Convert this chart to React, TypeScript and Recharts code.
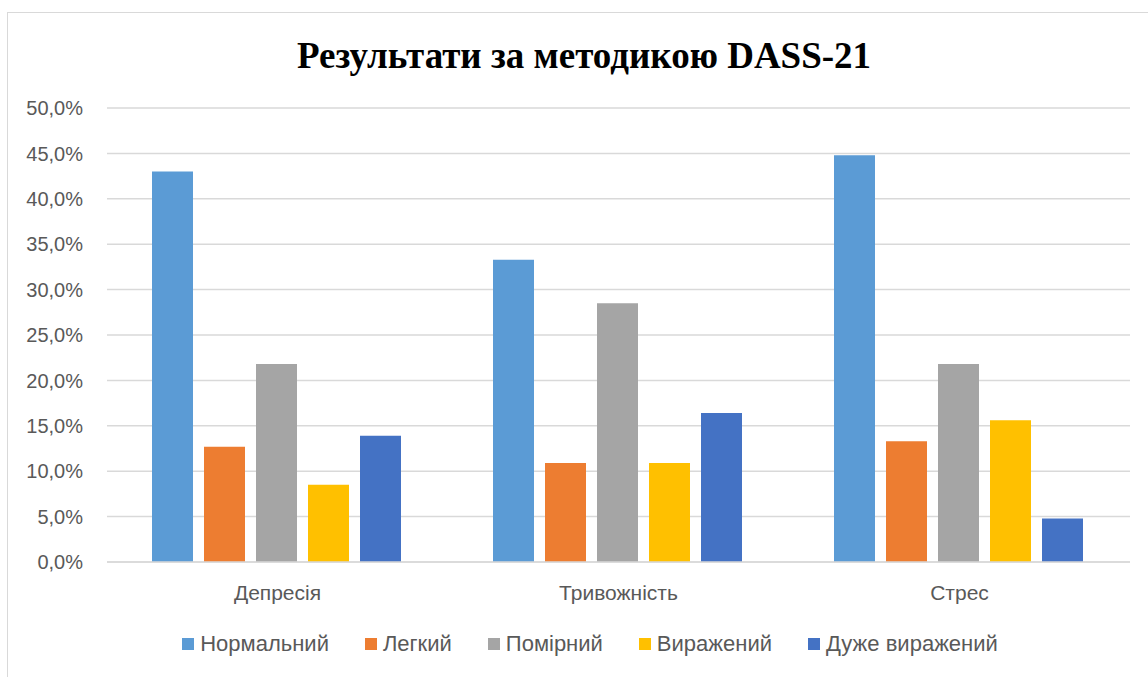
import { BarChart, Bar, XAxis, YAxis, CartesianGrid } from "recharts";

const categories = ["Депресія", "Тривожність", "Стрес"];
const normal = [43.0, 33.3, 44.8];
const mild = [12.7, 10.9, 13.3];
const moderate = [21.8, 28.5, 21.8];
const severe = [8.5, 10.9, 15.6];
const verySevere = [13.9, 16.4, 4.8];
const yTicks = [0, 5, 10, 15, 20, 25, 30, 35, 40, 45, 50];

const series = [
  { key: "normal", name: "Нормальний", color: "#5b9bd5" },
  { key: "mild", name: "Легкий", color: "#ed7d31" },
  { key: "moderate", name: "Помірний", color: "#a5a5a5" },
  { key: "severe", name: "Виражений", color: "#ffc000" },
  { key: "verySevere", name: "Дуже виражений", color: "#4472c4" },
];

const data = categories.map((c, i) => ({
  name: c,
  normal: normal[i],
  mild: mild[i],
  moderate: moderate[i],
  severe: severe[i],
  verySevere: verySevere[i],
}));

const FONT = "'Liberation Sans', Arial, sans-serif";
const fmt = (v: number) => v.toFixed(1).replace(".", ",") + "%";

const LegendContent = () => (
  <div style={{ display: "flex", justifyContent: "center", gap: 36, fontFamily: FONT, fontSize: 22, color: "#595959" }}>
    {series.map((s) => (
      <div key={s.key} style={{ display: "flex", alignItems: "center", gap: 6 }}>
        <span style={{ width: 12, height: 12, background: s.color, display: "inline-block" }} />
        <span>{s.name}</span>
      </div>
    ))}
  </div>
);

export default function App() {
  return (
    <div style={{ position: "absolute", left: 0, top: 0, width: 1148, height: 677, background: "#fff", overflow: "hidden" }}>
      <div style={{ position: "absolute", left: 7, top: 12, width: 1141, height: 665, borderTop: "1px solid #d9d9d9", borderLeft: "1px solid #d9d9d9" }} />
      <div style={{ position: "absolute", top: 34, left: 0, width: 1168, textAlign: "center", fontFamily: "'Liberation Serif', 'Times New Roman', serif", fontWeight: "bold", fontSize: 37, color: "#000" }}>
        Результати за методикою DASS-21
      </div>
      <div style={{ position: "absolute", left: 0, top: 0 }}>
        <BarChart
          width={1148}
          height={677}
          data={data}
          margin={{ top: 108, right: 18, bottom: 85, left: 7 }}
          barCategoryGap={45}
          barGap={11}
        >
          <CartesianGrid vertical={false} stroke="#d9d9d9" strokeWidth={1.5} />
          <XAxis
            dataKey="name"
            axisLine={{ stroke: "#d9d9d9", strokeWidth: 1.5 }}
            tickLine={false}
            tick={{ fill: "#595959", fontSize: 21, fontFamily: FONT }}
            tickMargin={17}
            height={30}
          />
          <YAxis
            width={100}
            domain={[0, 50]}
            ticks={yTicks}
            tickFormatter={fmt}
            axisLine={false}
            tickLine={false}
            tick={{ fill: "#595959", fontSize: 20, fontFamily: FONT }}
            tickMargin={18}
          />
          {series.map((s) => (
            <Bar key={s.key} dataKey={s.key} name={s.name} fill={s.color} isAnimationActive={false} />
          ))}
        </BarChart>
      </div>
      <div style={{ position: "absolute", top: 631, left: 0, width: 1180 }}>
        <LegendContent />
      </div>
    </div>
  );
}
